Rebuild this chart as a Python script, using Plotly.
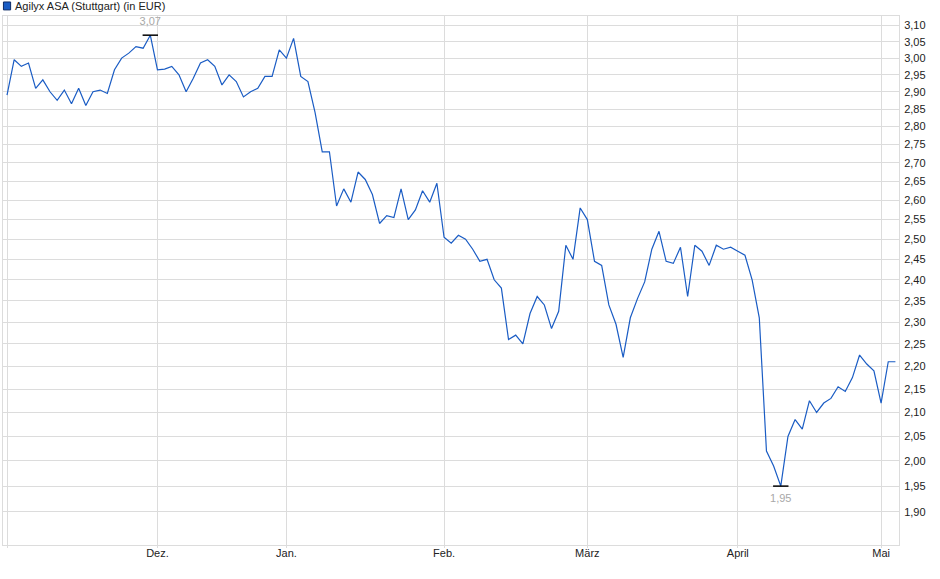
import plotly.graph_objects as go
import numpy as np

# daily closing prices (trading days, late Nov .. early May)
prices = [
    2.89, 2.995, 2.975, 2.985, 2.91, 2.935, 2.90, 2.875, 2.905, 2.865,
    2.91, 2.86, 2.90, 2.905, 2.895, 2.965, 3.00, 3.015, 3.035, 3.03,
    3.07, 2.965, 2.967, 2.975, 2.95, 2.90, 2.94, 2.985, 2.995, 2.975,
    2.92, 2.95, 2.93, 2.885, 2.90, 2.91, 2.945, 2.945, 3.025, 3.00,
    3.06, 2.945, 2.93, 2.84, 2.73, 2.73, 2.585, 2.63, 2.595, 2.675,
    2.655, 2.615, 2.54, 2.56, 2.555, 2.63, 2.55, 2.575, 2.625, 2.595,
    2.645, 2.505, 2.49, 2.51, 2.50, 2.475, 2.445, 2.45, 2.40, 2.38,
    2.26, 2.27, 2.25, 2.32, 2.36, 2.34, 2.285, 2.325, 2.485, 2.45,
    2.58, 2.55, 2.445, 2.435, 2.34, 2.295, 2.22, 2.31, 2.355, 2.395,
    2.475, 2.52, 2.445, 2.44, 2.48, 2.36, 2.485, 2.47, 2.435, 2.485,
    2.475, 2.48, 2.47, 2.46, 2.40, 2.31, 2.02, 1.99, 1.95, 2.05,
    2.085, 2.065, 2.125, 2.10, 2.12, 2.13, 2.155, 2.145, 2.175, 2.225,
    2.205, 2.19, 2.12, 2.21, 2.21,
]
days = list(range(len(prices)))

# first trading day of each month
month_pos = [0, 21, 39, 61, 81, 102, 122]
month_labels = ["", "Dez.", "Jan.", "Feb.", "März", "April", "Mai"]

y_ticks = [1.90, 1.95, 2.00, 2.05, 2.10, 2.15, 2.20, 2.25, 2.30, 2.35,
           2.40, 2.45, 2.50, 2.55, 2.60, 2.65, 2.70, 2.75, 2.80, 2.85,
           2.90, 2.95, 3.00, 3.05, 3.10]

title = "Agilyx ASA (Stuttgart) (in EUR)"

blue = "#1a5cc4"
grid = "#dcdcdc"

i_max = int(np.argmax(prices))
i_min = int(np.argmin(prices))

fig = go.Figure()
fig.add_trace(go.Scatter(x=days, y=prices, mode="lines",
                         line=dict(color=blue, width=1.2), showlegend=False))

# high / low markers
fig.add_trace(go.Scatter(
    x=[i_max, i_min], y=[prices[i_max], prices[i_min]],
    mode="markers+text",
    marker=dict(symbol="line-ew", size=11, line=dict(width=1.5, color="black")),
    text=[f"{prices[i_max]:.2f}".replace(".", ","), f"{prices[i_min]:.2f}".replace(".", ",")],
    textposition=["top center", "bottom center"],
    textfont=dict(color="#a8a8a8", size=11),
    showlegend=False, hoverinfo="skip"))

# legend box
fig.add_shape(type="rect", xref="paper", yref="paper",
              x0=0.0005, x1=0.0085, y0=1.0115, y1=1.0265,
              fillcolor=blue, line=dict(color="#0d2a66", width=1))
fig.add_annotation(text=title, xref="paper", yref="paper", x=0.0115, y=1.019,
                   xanchor="left", yanchor="middle", showarrow=False,
                   font=dict(size=11, color="#222"))

fig.update_layout(
    width=940, height=579,
    margin=dict(l=3, r=41, t=16, b=34),
    plot_bgcolor="white", paper_bgcolor="white",
    separators=",.",
    font=dict(family="Liberation Sans, Arial, sans-serif", size=11, color="#222"),
    xaxis=dict(
        range=[-0.56, 124.5],
        tickvals=month_pos, ticktext=month_labels,
        showgrid=True, gridcolor=grid, gridwidth=1,
        ticks="outside", ticklen=2, tickcolor=grid,
        ticklabelstandoff=-4,
        showline=True, linecolor=grid, mirror=True,
        zeroline=False,
    ),
    yaxis=dict(
        type="log", side="right",
        range=[np.log10(1.8378), np.log10(3.1298)],
        tickvals=y_ticks, tickformat=".2f",
        showgrid=True, gridcolor=grid, gridwidth=1,
        ticks="", ticklabelstandoff=2,
        showline=True, linecolor=grid, mirror=True,
        zeroline=False,
    ),
)

# page body has a default 8px margin; drop it so the chart sits at 0,0
fig.write_html("out.html", config={"displayModeBar": False},
               post_script="document.body.style.margin='0';")
